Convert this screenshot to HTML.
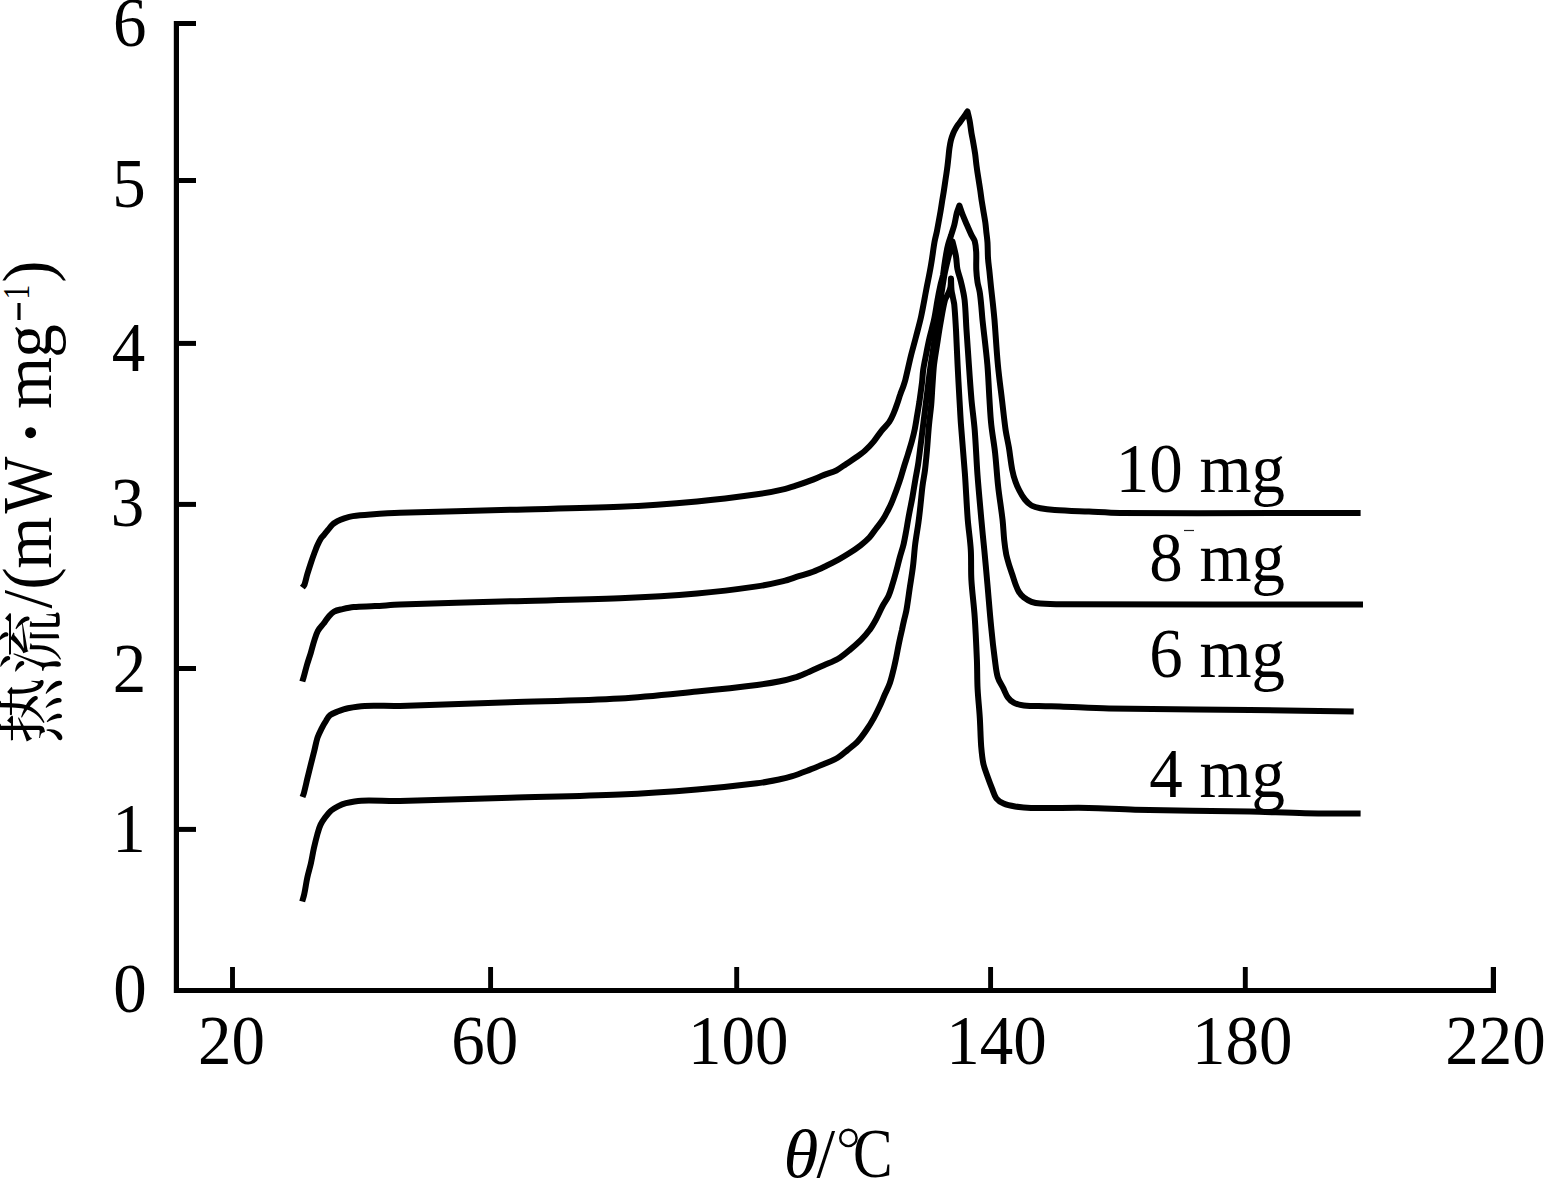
<!DOCTYPE html>
<html><head><meta charset="utf-8"><title>DSC</title>
<style>
html,body{margin:0;padding:0;background:#fff;}
body{width:1545px;height:1178px;overflow:hidden;}
svg{display:block;}
text{font-family:"Liberation Serif","Noto Serif CJK SC",serif;fill:#000;}
</style></head><body>
<svg width="1545" height="1178" viewBox="0 0 1545 1178">
<rect width="1545" height="1178" fill="#fff"/>
<path d="M196,23.5 H176.4 V990.5 H1493.4 V967" fill="none" stroke="#000" stroke-width="5.2" stroke-linejoin="miter"/>
<path d="M176.4,180.5 H196" stroke="#000" stroke-width="5"/>
<path d="M176.4,343.4 H196" stroke="#000" stroke-width="5"/>
<path d="M176.4,504.4 H196" stroke="#000" stroke-width="5"/>
<path d="M176.4,668.5 H196" stroke="#000" stroke-width="5"/>
<path d="M176.4,829.4 H196" stroke="#000" stroke-width="5"/>
<path d="M232.5,990.5 V967" stroke="#000" stroke-width="4.9"/>
<path d="M490.6,990.5 V967" stroke="#000" stroke-width="4.9"/>
<path d="M736.7,990.5 V967" stroke="#000" stroke-width="4.9"/>
<path d="M990.6,990.5 V967" stroke="#000" stroke-width="4.9"/>
<path d="M1245.3,990.5 V967" stroke="#000" stroke-width="4.9"/>
<text transform="translate(129.70,46.10) scale(1.0000,1.0370)" text-anchor="middle" font-size="67.0">6</text>
<text transform="translate(129.00,207.20) scale(1.0000,1.0370)" text-anchor="middle" font-size="67.0">5</text>
<text transform="translate(128.60,371.00) scale(1.0000,1.0370)" text-anchor="middle" font-size="67.0">4</text>
<text transform="translate(127.60,525.80) scale(1.0000,1.0370)" text-anchor="middle" font-size="67.0">3</text>
<text transform="translate(129.40,691.80) scale(1.0000,1.0370)" text-anchor="middle" font-size="67.0">2</text>
<text transform="translate(129.00,852.00) scale(1.0000,1.0370)" text-anchor="middle" font-size="67.0">1</text>
<text transform="translate(130.00,1012.30) scale(1.0000,1.0370)" text-anchor="middle" font-size="67.0">0</text>
<text transform="translate(231.50,1064.20) scale(1.0000,1.0370)" text-anchor="middle" font-size="67.0">20</text>
<text transform="translate(484.80,1064.20) scale(1.0000,1.0370)" text-anchor="middle" font-size="67.0">60</text>
<text transform="translate(738.20,1064.20) scale(1.0000,1.0370)" text-anchor="middle" font-size="67.0">100</text>
<text transform="translate(996.40,1064.20) scale(1.0000,1.0370)" text-anchor="middle" font-size="67.0">140</text>
<text transform="translate(1242.20,1064.20) scale(1.0000,1.0370)" text-anchor="middle" font-size="67.0">180</text>
<text transform="translate(1495.50,1064.20) scale(1.0000,1.0370)" text-anchor="middle" font-size="67.0">220</text>
<text transform="translate(1285.00,492.10) scale(1.0000,1.0370)" text-anchor="end" font-size="67.0">10 mg</text>
<text transform="translate(1285.00,580.50) scale(1.0000,1.0370)" text-anchor="end" font-size="67.0">8 mg</text>
<text transform="translate(1285.00,677.00) scale(1.0000,1.0370)" text-anchor="end" font-size="67.0">6 mg</text>
<text transform="translate(1285.00,797.10) scale(1.0000,1.0370)" text-anchor="end" font-size="67.0">4 mg</text>
<path d="M1184,530.5 H1194" stroke="#222" stroke-width="1.2"/>
<text transform="translate(783.60,1177.00) scale(1.0600,0.9950)" text-anchor="start" font-size="67.0" font-style="italic">θ</text>
<text transform="translate(816.40,1177.00) scale(1.0000,1.0370)" text-anchor="start" font-size="67.0">/</text>
<circle cx="848.4" cy="1137.9" r="8.2" fill="none" stroke="#000" stroke-width="2.4"/>
<text transform="translate(853.00,1177.00) scale(0.8870,1.0370)" text-anchor="start" font-size="67.0">C</text>
<text transform="translate(51.00,608.40) rotate(-90) scale(1.0000,1.0370)" text-anchor="start" font-size="67.0">/</text>
<text transform="translate(51.00,589.80) rotate(-90) scale(1.0000,1.0370)" text-anchor="start" font-size="67.0">(</text>
<text transform="translate(51.00,568.70) rotate(-90) scale(1.0000,1.0370)" text-anchor="start" font-size="67.0">m</text>
<text transform="translate(51.00,513.50) rotate(-90) scale(0.9000,1.0370)" text-anchor="start" font-size="67.0">W</text>
<text transform="translate(51.00,409.10) rotate(-90) scale(1.0000,1.0370)" text-anchor="start" font-size="67.0">m</text>
<text transform="translate(51.00,357.70) rotate(-90) scale(1.0000,1.0370)" text-anchor="start" font-size="67.0">g</text>
<text transform="translate(51.00,282.80) rotate(-90) scale(1.0000,1.0370)" text-anchor="start" font-size="67.0">)</text>
<circle cx="30.6" cy="432.7" r="5.5" fill="#000"/>
<path d="M19,320 V303" stroke="#000" stroke-width="3.2"/>
<text transform="translate(29,299.4) rotate(-90) scale(0.78,1)" text-anchor="start" font-size="38">1</text>
<text transform="translate(57.0,744.0) rotate(-90) scale(1.0000,1.0370)" text-anchor="start" font-size="67.0">热</text>
<text transform="translate(55.0,674.6) rotate(-90) scale(1.0000,1.0390)" text-anchor="start" font-size="64.0">流</text>
<path d="M302.3,587.5 C303.0,586.6 304.0,585.9 304.4,584.9 C305.7,581.3 306.3,577.5 307.4,573.9 C308.5,570.3 309.6,566.8 310.8,563.2 C311.9,559.9 313.0,556.7 314.2,553.5 C315.2,550.9 316.1,548.3 317.2,545.8 C318.2,543.5 319.3,541.2 320.6,539.0 C321.5,537.5 322.9,536.2 324.0,534.8 C325.4,533.1 326.8,531.4 328.2,529.7 C329.6,528.0 330.8,526.1 332.4,524.6 C333.9,523.2 335.7,522.2 337.5,521.2 C339.7,520.0 342.0,519.1 344.3,518.3 C347.1,517.4 349.9,516.5 352.8,516.1 C358.7,515.2 364.7,514.8 370.6,514.4 C380.4,513.7 390.2,513.0 400.0,512.7 C436.7,511.5 473.3,510.8 510.0,509.8 C546.7,508.8 583.4,508.4 620.0,506.8 C645.7,505.6 671.4,503.7 697.0,501.4 C717.1,499.6 737.1,497.1 757.0,494.3 C765.8,493.1 774.6,491.3 783.3,489.3 C787.8,488.3 792.2,486.8 796.6,485.4 C801.4,483.9 806.2,482.2 810.9,480.4 C815.4,478.7 819.7,476.6 824.2,474.9 C828.2,473.3 832.5,472.4 836.3,470.5 C839.8,468.7 842.9,466.1 846.2,463.9 C849.5,461.7 852.9,459.6 856.2,457.3 C859.2,455.2 862.3,453.1 865.0,450.6 C868.2,447.7 871.1,444.6 873.8,441.3 C876.6,438.0 878.8,434.2 881.5,430.8 C884.0,427.7 887.1,425.1 889.3,421.9 C891.2,419.2 892.4,416.1 893.7,413.1 C895.0,410.2 896.0,407.3 897.0,404.3 C898.2,401.0 899.1,397.6 900.3,394.3 C901.3,391.3 902.6,388.5 903.6,385.5 C904.2,383.7 904.8,381.9 905.3,380.0 C907.3,371.9 909.0,363.6 911.0,355.5 C912.6,349.2 914.4,343.0 916.0,336.8 C917.7,330.1 919.6,323.4 921.1,316.6 C923.0,307.8 924.5,298.9 926.2,290.0 C927.8,281.7 929.6,273.4 931.0,265.0 C932.4,257.2 933.2,249.3 934.6,241.5 C935.2,238.1 936.2,234.7 936.9,231.3 C937.6,227.9 938.2,224.5 938.8,221.1 C939.4,217.7 940.0,214.3 940.6,210.9 C941.2,207.5 941.7,204.1 942.2,200.7 C942.8,197.3 943.4,193.9 943.9,190.5 C944.4,187.1 944.9,183.8 945.4,180.4 C946.0,176.6 946.6,172.7 947.1,168.9 C947.6,165.5 947.9,162.1 948.3,158.7 C948.7,155.3 948.9,151.9 949.4,148.5 C949.8,145.7 950.2,142.9 950.9,140.2 C951.5,137.8 952.4,135.5 953.3,133.2 C954.1,131.2 955.1,129.3 956.2,127.5 C957.3,125.7 958.6,124.1 959.8,122.4 C961.2,120.5 962.5,118.6 963.9,116.7 C965.1,115.0 966.3,113.2 967.5,111.5 C968.2,114.5 969.0,117.5 969.6,120.5 C970.4,124.7 970.8,129.0 971.5,133.2 C972.1,136.6 972.8,140.0 973.4,143.4 C974.0,146.8 974.6,150.2 975.1,153.6 C975.7,157.8 976.0,162.1 976.6,166.3 C977.1,170.1 977.7,174.0 978.3,177.8 C978.9,181.6 979.5,185.5 980.1,189.3 C980.7,193.1 981.1,196.9 981.7,200.7 C982.3,204.5 983.0,208.4 983.6,212.2 C984.2,215.6 984.8,219.0 985.3,222.4 C985.8,225.8 986.0,229.2 986.4,232.6 C986.8,236.0 987.3,239.4 987.5,242.8 C987.8,247.9 987.7,252.9 988.0,258.0 C988.3,262.7 989.0,267.3 989.5,272.0 C990.0,277.0 990.5,282.0 991.0,287.0 C991.6,292.3 992.2,297.7 992.8,303.0 C993.4,308.7 994.0,314.3 994.5,320.0 C995.7,335.0 996.5,350.0 997.9,365.0 C999.0,376.7 1000.6,388.3 1002.0,400.0 C1003.2,410.0 1004.2,420.0 1005.6,430.0 C1006.5,435.9 1007.9,441.7 1008.9,447.6 C1010.1,454.9 1010.8,462.4 1012.2,469.7 C1013.0,473.8 1014.1,477.8 1015.5,481.8 C1016.5,484.8 1017.9,487.8 1019.4,490.6 C1021.0,493.7 1022.7,496.8 1024.9,499.5 C1026.8,501.8 1028.9,504.0 1031.5,505.5 C1034.2,507.0 1037.3,507.7 1040.4,508.3 C1045.1,509.2 1049.9,509.7 1054.7,510.0 C1066.1,510.8 1077.6,511.1 1089.0,511.6 C1099.3,512.1 1109.7,512.9 1120.0,513.0 C1200.2,513.4 1280.4,513.0 1360.6,513.0" fill="none" stroke="#000" stroke-width="6.0" stroke-linejoin="round" stroke-linecap="butt"/>
<path d="M302.3,681.5 C302.7,680.1 303.2,678.8 303.6,677.4 C304.8,673.2 305.8,668.9 307.0,664.7 C308.2,660.7 309.6,656.8 310.8,652.8 C312.0,648.9 312.9,644.8 314.2,640.9 C315.3,637.5 316.3,633.9 318.0,630.7 C319.6,627.9 322.1,625.7 324.0,623.1 C325.5,621.2 326.6,619.0 328.2,617.2 C330.0,615.2 331.7,612.9 334.1,611.6 C336.7,610.2 339.7,609.8 342.6,609.1 C346.3,608.2 350.0,607.3 353.7,607.0 C360.7,606.3 367.8,606.5 374.9,606.1 C383.3,605.7 391.6,604.9 400.0,604.6 C436.7,603.3 473.3,602.4 510.0,601.3 C546.7,600.3 583.4,599.8 620.0,598.3 C645.7,597.2 671.4,595.7 697.0,593.5 C717.1,591.8 737.1,589.3 757.0,586.4 C765.9,585.1 774.6,583.2 783.3,581.1 C788.6,579.8 793.6,577.8 798.8,576.2 C803.6,574.7 808.4,573.5 813.1,571.7 C817.6,570.0 822.0,567.8 826.4,565.7 C830.5,563.8 834.5,561.8 838.5,559.6 C842.2,557.5 845.9,555.3 849.5,553.0 C853.3,550.6 857.0,548.1 860.6,545.3 C863.7,542.9 866.7,540.4 869.4,537.5 C871.9,534.8 873.8,531.6 876.0,528.7 C878.2,525.8 880.6,523.0 882.6,519.9 C884.5,517.1 886.1,514.0 887.6,511.0 C889.4,507.6 891.1,504.1 892.5,500.5 C895.0,494.3 897.3,488.1 899.4,481.8 C901.1,476.9 902.4,471.9 903.9,467.0 C905.2,462.7 906.7,458.3 908.0,454.0 C909.3,449.7 910.7,445.4 911.9,441.0 C913.0,437.0 914.0,433.0 914.8,429.0 C915.7,424.4 916.4,419.7 917.2,415.0 C917.9,410.6 918.7,406.2 919.4,401.8 C920.3,395.4 921.2,389.1 922.0,382.7 C922.5,378.5 922.6,374.2 923.2,370.0 C923.9,365.0 925.0,360.0 926.0,355.0 C927.1,349.3 928.2,343.6 929.5,338.0 C930.9,332.0 932.7,326.1 934.0,320.0 C935.4,313.4 936.3,306.7 937.5,300.0 C938.4,295.0 939.4,290.0 940.5,285.0 C941.2,281.6 942.3,278.4 943.0,275.0 C943.6,271.7 943.9,268.3 944.4,265.0 C944.9,261.7 945.4,258.3 946.0,255.0 C946.6,251.7 947.1,248.3 948.0,245.0 C948.9,241.6 950.1,238.3 951.2,235.0 C952.2,231.7 953.4,228.4 954.3,225.0 C955.3,221.0 955.8,217.0 956.8,213.0 C957.5,210.4 958.5,208.0 959.4,205.5 C960.5,208.6 961.4,211.7 962.6,214.7 C963.8,217.7 965.1,220.7 966.4,223.7 C968.1,227.5 969.7,231.3 971.5,235.1 C972.5,237.1 974.1,238.8 974.7,241.0 C975.7,244.6 976.0,248.3 976.2,252.0 C976.5,258.0 976.0,264.0 976.3,270.0 C976.5,274.0 976.9,278.0 977.5,282.0 C978.0,285.4 979.2,288.6 979.7,292.0 C980.4,296.3 980.8,300.7 981.2,305.0 C981.7,310.0 982.0,315.0 982.5,320.0 C984.1,335.0 986.1,350.0 987.4,365.0 C988.4,376.6 988.7,388.3 989.5,400.0 C990.0,408.3 990.4,416.7 991.3,425.0 C992.3,434.4 994.1,443.6 995.1,453.0 C996.3,464.0 996.9,475.0 998.1,486.0 C999.3,497.1 1001.2,508.2 1002.5,519.3 C1003.3,526.2 1003.5,533.1 1004.2,540.0 C1004.7,544.8 1005.3,549.6 1006.2,554.3 C1006.9,557.7 1007.9,561.0 1008.9,564.3 C1009.9,567.6 1011.1,570.9 1012.2,574.2 C1013.3,577.5 1014.3,580.9 1015.5,584.2 C1016.5,586.8 1017.4,589.5 1018.9,591.9 C1020.2,594.0 1021.9,595.9 1023.8,597.4 C1026.1,599.2 1028.7,600.8 1031.5,601.8 C1034.3,602.8 1037.4,603.3 1040.4,603.5 C1047.7,604.1 1055.1,604.2 1062.5,604.2 C1162.7,604.5 1262.8,604.4 1363.0,604.5" fill="none" stroke="#000" stroke-width="6.0" stroke-linejoin="round" stroke-linecap="butt"/>
<path d="M302.5,797.0 C303.0,795.6 303.6,794.2 304.0,792.7 C305.2,788.1 306.2,783.4 307.3,778.7 C308.5,773.7 309.8,768.8 311.0,763.8 C312.1,759.4 313.2,755.1 314.3,750.7 C315.4,746.3 316.1,741.9 317.5,737.6 C318.6,734.4 320.2,731.3 321.7,728.3 C323.0,725.7 324.4,723.2 326.0,720.8 C327.2,718.9 328.3,716.6 330.1,715.2 C332.3,713.5 335.0,712.5 337.6,711.5 C341.0,710.2 344.4,708.9 347.9,708.2 C353.4,707.1 359.1,706.1 364.7,705.9 C376.5,705.4 388.2,706.2 400.0,705.9 C436.7,705.0 473.3,703.4 510.0,702.2 C546.7,701.0 583.4,700.6 620.0,698.5 C645.7,697.0 671.4,694.1 697.0,691.6 C717.0,689.6 737.0,687.5 757.0,685.0 C764.7,684.0 772.4,682.8 780.0,681.3 C784.9,680.4 789.7,679.2 794.4,677.7 C799.4,676.1 804.1,673.9 808.9,671.9 C813.7,669.9 818.5,667.6 823.3,665.5 C828.1,663.3 833.2,661.7 837.7,659.0 C841.9,656.6 845.6,653.4 849.3,650.3 C853.3,647.1 857.2,643.8 860.8,640.2 C863.9,637.1 866.9,633.7 869.5,630.1 C872.0,626.8 874.0,623.1 876.0,619.5 C878.4,615.1 880.2,610.4 882.6,606.0 C884.4,602.6 886.9,599.5 888.5,596.0 C890.3,592.1 891.3,588.0 892.6,583.9 C894.0,579.5 895.2,575.0 896.4,570.6 C897.6,566.2 898.6,561.8 899.8,557.4 C901.0,553.0 902.5,548.7 903.6,544.2 C904.7,539.4 905.5,534.6 906.4,529.8 C907.3,524.6 908.1,519.5 909.1,514.3 C910.1,508.7 911.4,503.0 912.4,497.4 C913.5,491.0 914.5,484.7 915.6,478.3 C916.4,473.9 917.3,469.5 918.0,465.0 C918.8,460.0 919.4,455.0 920.0,450.0 C920.9,443.3 921.7,436.7 922.5,430.0 C923.3,423.3 924.2,416.7 925.0,410.0 C925.8,403.3 926.7,396.7 927.5,390.0 C928.3,383.3 929.1,376.7 930.0,370.0 C930.9,363.3 932.0,356.7 933.0,350.0 C934.0,343.3 935.0,336.7 936.0,330.0 C937.0,323.3 938.0,316.7 939.0,310.0 C940.0,303.3 940.9,296.7 942.0,290.0 C942.9,284.0 943.8,278.0 945.0,272.0 C946.0,267.0 947.3,262.0 948.5,257.0 C949.8,251.8 951.2,246.7 952.5,241.5 C953.7,246.5 955.1,251.4 956.0,256.5 C956.7,260.6 956.6,264.9 957.4,269.0 C958.3,273.4 960.0,277.6 961.0,282.0 C962.4,288.0 963.9,293.9 964.6,300.0 C965.7,310.0 965.8,320.0 966.5,330.0 C967.3,341.7 968.1,353.3 968.9,365.0 C969.7,376.7 970.5,388.3 971.5,400.0 C972.4,410.0 973.9,420.0 974.7,430.0 C975.9,445.0 976.4,460.0 977.5,475.0 C978.6,489.7 980.0,504.3 981.3,519.0 C982.2,529.3 983.3,539.7 984.3,550.0 C985.4,561.3 986.4,572.7 987.4,584.0 C988.7,598.8 989.8,613.5 991.3,628.3 C992.3,638.9 993.5,649.5 994.9,660.0 C995.7,665.8 996.1,671.7 997.8,677.3 C999.0,681.4 1001.7,685.0 1003.6,688.9 C1005.0,691.8 1006.0,694.9 1007.9,697.5 C1009.4,699.6 1011.4,701.4 1013.7,702.6 C1016.8,704.2 1020.3,705.1 1023.8,705.5 C1031.0,706.3 1038.2,706.0 1045.4,706.2 C1050.3,706.3 1055.1,706.2 1060.0,706.4 C1076.3,707.0 1092.7,708.1 1109.0,708.4 C1156.0,709.3 1203.0,709.4 1250.0,710.0 C1284.6,710.5 1319.1,711.1 1353.7,711.6" fill="none" stroke="#000" stroke-width="6.0" stroke-linejoin="round" stroke-linecap="butt"/>
<path d="M302.2,901.5 C302.9,899.0 303.8,896.5 304.3,893.9 C305.5,888.5 306.1,883.0 307.3,877.6 C308.3,872.8 309.8,868.1 310.9,863.3 C312.0,858.3 312.8,853.1 313.9,848.1 C315.0,843.3 316.2,838.5 317.5,833.8 C318.4,830.7 319.2,827.5 320.6,824.6 C321.8,822.1 323.4,819.8 325.1,817.5 C326.8,815.2 328.5,812.8 330.7,810.9 C332.8,809.0 335.4,807.6 337.9,806.3 C340.5,805.0 343.2,803.9 346.0,803.2 C351.0,802.0 356.1,800.9 361.3,800.7 C374.2,800.2 387.1,801.2 400.0,800.9 C436.7,800.2 473.3,798.9 510.0,797.8 C546.7,796.7 583.4,796.1 620.0,794.5 C645.7,793.4 671.4,791.6 697.0,789.5 C717.0,787.9 737.0,785.8 757.0,783.3 C764.7,782.4 772.4,780.8 780.0,779.3 C783.9,778.5 787.7,777.6 791.5,776.4 C797.4,774.5 803.1,772.3 808.9,770.1 C813.7,768.3 818.5,766.3 823.3,764.3 C828.1,762.2 833.2,760.5 837.7,757.8 C841.4,755.6 844.5,752.6 847.8,749.9 C851.2,747.1 854.9,744.5 857.9,741.2 C861.2,737.7 863.9,733.7 866.6,729.7 C869.2,726.0 871.6,722.1 873.8,718.1 C875.9,714.4 877.8,710.5 879.6,706.6 C881.4,702.8 882.9,698.9 884.6,695.0 C886.3,691.2 888.3,687.5 889.7,683.5 C891.2,679.3 892.2,674.9 893.3,670.5 C894.4,666.2 895.3,661.8 896.2,657.5 C897.2,652.7 898.0,647.9 899.0,643.1 C899.9,638.8 900.9,634.4 901.9,630.1 C902.6,626.7 903.3,623.4 904.1,620.0 C904.8,616.8 905.8,613.6 906.4,610.4 C907.7,603.1 908.6,595.7 909.7,588.3 C910.8,580.9 912.1,573.6 913.0,566.2 C913.9,558.9 914.3,551.5 915.2,544.2 C916.1,536.8 917.5,529.5 918.5,522.1 C919.3,516.4 919.9,510.7 920.5,505.0 C921.2,498.7 921.7,492.3 922.5,486.0 C923.2,480.6 924.3,475.4 925.0,470.0 C925.8,463.4 926.4,456.7 927.0,450.0 C927.7,441.7 928.2,433.3 929.0,425.0 C929.6,418.3 930.6,411.7 931.2,405.0 C931.8,398.3 932.0,391.7 932.5,385.0 C933.0,378.3 933.3,371.6 934.0,365.0 C934.8,358.3 936.0,351.7 937.0,345.0 C938.2,337.3 939.3,329.6 940.7,322.0 C942.0,314.6 943.1,307.2 945.0,300.0 C945.7,297.5 947.5,295.4 948.5,293.0 C949.3,291.1 950.1,289.1 950.5,287.0 C951.0,284.2 950.8,281.3 951.0,278.5 C951.2,282.3 951.1,286.2 951.5,290.0 C951.8,292.7 952.5,295.3 953.0,298.0 C953.4,300.3 954.1,302.6 954.3,305.0 C955.1,313.3 955.5,321.7 956.0,330.0 C956.6,341.7 957.0,353.3 957.6,365.0 C958.2,376.7 958.8,388.3 959.5,400.0 C960.0,408.3 960.4,416.7 961.0,425.0 C962.2,441.7 963.8,458.3 965.0,475.0 C966.0,489.7 966.6,504.3 967.7,519.0 C968.5,529.4 970.2,539.6 970.8,550.0 C971.4,560.0 970.8,570.0 971.4,580.0 C972.1,592.4 973.9,604.6 974.7,617.0 C975.7,631.3 976.3,645.7 976.9,660.0 C977.3,669.6 977.1,679.3 977.6,688.9 C978.1,698.5 979.2,708.1 979.8,717.7 C980.4,727.3 980.5,737.0 981.2,746.6 C981.7,752.4 982.2,758.2 983.4,763.9 C984.4,768.4 986.2,772.6 987.7,776.9 C989.1,780.8 990.5,784.6 992.0,788.4 C993.4,791.8 994.2,795.6 996.4,798.5 C998.2,800.8 1000.9,802.4 1003.6,803.6 C1007.2,805.2 1011.2,805.9 1015.1,806.5 C1020.4,807.3 1025.7,807.8 1031.0,807.9 C1050.2,808.3 1069.5,807.6 1088.7,807.9 C1104.1,808.2 1119.6,809.4 1135.0,809.7 C1173.3,810.6 1211.7,810.7 1250.0,811.5 C1268.3,811.9 1286.7,813.0 1305.0,813.3 C1323.5,813.6 1342.1,813.4 1360.6,813.5" fill="none" stroke="#000" stroke-width="6.0" stroke-linejoin="round" stroke-linecap="butt"/>
</svg>
</body></html>
